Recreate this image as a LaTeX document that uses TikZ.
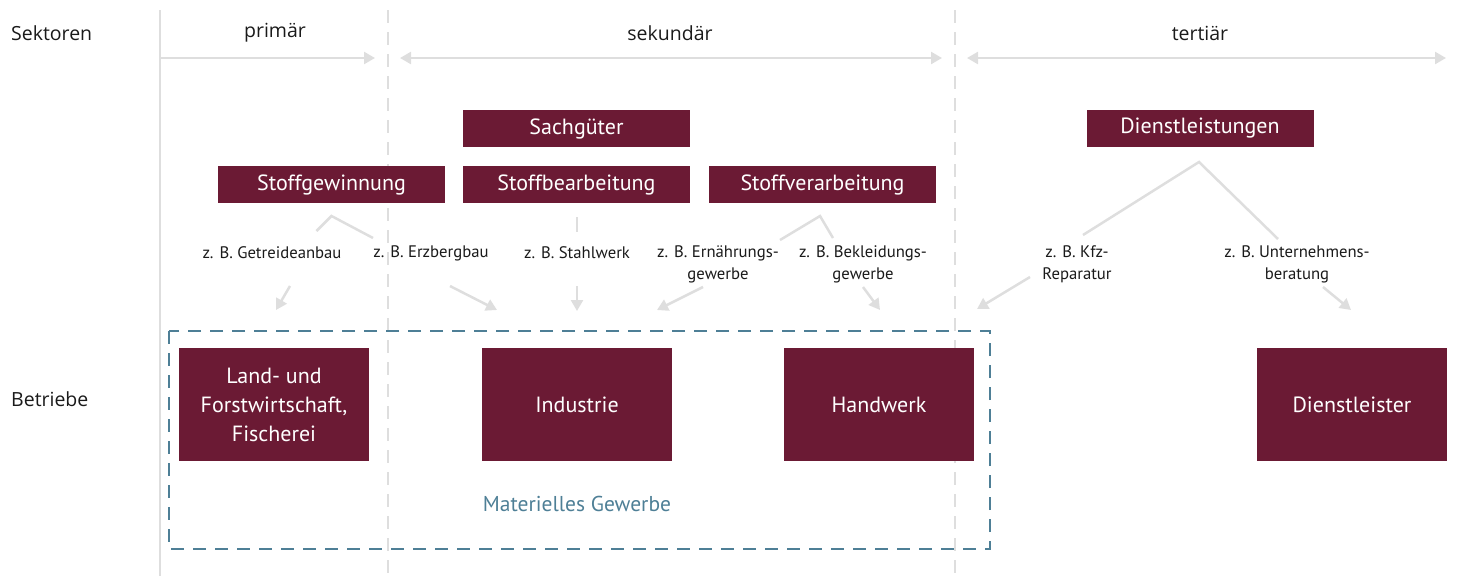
\documentclass[tikz,border=0pt]{standalone}
\usepackage{fontspec}
\setmainfont{PT Sans}
\newfontfamily\headfont{Open Sans}
\usepackage{tikz}
\usetikzlibrary{arrows.meta, positioning, calc}
\definecolor{WiRed}{RGB}{107,26,52}
\definecolor{WiGray}{RGB}{222,222,222}
\definecolor{WiTeal}{RGB}{78,127,150}
\definecolor{WiText}{RGB}{26,26,26}

\begin{document}
\begin{tikzpicture}[x=1pt, y=-1pt,
          box/.style={rectangle, fill=WiRed, text=white, inner sep=0pt,
                      minimum width=227pt, minimum height=37pt,
                      font=\fontsize{22}{26}\selectfont},
          firm/.style={rectangle, fill=WiRed, text=white, inner sep=0pt,
                       minimum width=190pt, minimum height=113pt, align=center,
                       font=\fontsize{22}{29}\selectfont},
          ex/.style={align=center, text=WiText, inner sep=0pt,
                     font=\fontsize{16.7}{22}\selectfont},
          head/.style={text=WiText, inner sep=0pt,
                       font=\headfont\fontsize{19.5}{23}\selectfont},
          link/.style={WiGray, line width=2.5pt},
          tip/.style={link, -{Triangle[length=11pt, width=12pt]}},
          tips/.style={link, {Triangle[length=11pt, width=12pt]}-{Triangle[length=11pt, width=12pt]}},
          divider/.style={WiGray, line width=2.5pt, dash pattern=on 13pt off 9pt}
        ]
        \useasboundingbox (0,0) rectangle (1457,576);

        % Sector borders
        \coordinate (b0t) at (160,10);  \coordinate (b0b) at (160,576);
        \coordinate (b1t) at (388,10);  \coordinate (b1b) at (388,576);
        \coordinate (b2t) at (955,10);  \coordinate (b2b) at (955,576);
        \draw[link] (b0t) -- (b0b);
        \draw[divider] (b1t) -- (b1b);
        \draw[divider] (b2t) -- (b2b);

        % Sectors
        \node[head, anchor=west] (sek) at (11,33) {Sektoren};
        \node[head] (pri) at (275,33) {primär};
        \node[head] (sec) at (670,33) {sekundär};
        \node[head] (ter) at (1200,33) {tertiär};
        \coordinate (p1) at (161,58);  \coordinate (p2) at (375,58);
        \coordinate (s1) at (400,58);  \coordinate (s2) at (942,58);
        \coordinate (t1) at (967,58);  \coordinate (t2) at (1446,58);
        \draw[tip] (p1) -- (p2);
        \draw[tips] (s1) -- (s2);
        \draw[tips] (t1) -- (t2);

        % Goods and services
        \node[box] (sag) at (576.5,128.5) {Sachgüter};
        \node[box] (dl)  at (1200,128.5) {Dienstleistungen};
        \node[box] (sg)  at (331.5,184.5) {Stoffgewinnung};
        \node[box] (sb)  at (576.5,184.5) {Stoffbearbeitung};
        \node[box] (sv)  at (822.5,184.5) {Stoffverarbeitung};

        % Examples
        \node[ex] (ex1) at (272,253) {z. B. Getreideanbau};
        \node[ex] (ex2) at (431,253) {z. B. Erzbergbau};
        \node[ex] (ex3) at (577,253) {z. B. Stahlwerk};
        \node[ex] (ex4) at (718,264) {z. B. Ernährungs-\\gewerbe};
        \node[ex] (ex5) at (863,264) {z. B. Bekleidungs-\\gewerbe};
        \node[ex] (ex6) at (1077,264) {z. B. Kfz-\\Reparatur};
        \node[ex] (ex7) at (1297,264) {z. B. Unternehmens-\\beratung};

        % Branches
        \coordinate (sg-ap) at (331.5,216);
        \coordinate (sg-l) at (316.5,231);  \coordinate (sg-r) at (373,238);
        \draw[link] (sg-l) -- (sg-ap) -- (sg-r);
        \coordinate (sb-ap) at (577,217);   \coordinate (sb-e) at (577,232);
        \draw[link] (sb-ap) -- (sb-e);
        \coordinate (sv-ap) at (820,216);
        \coordinate (sv-l) at (780,240);    \coordinate (sv-r) at (833,238);
        \draw[link] (sv-l) -- (sv-ap) -- (sv-r);
        \coordinate (dl-ap) at (1199,162);
        \coordinate (dl-l) at (1083,235);   \coordinate (dl-r) at (1278,239);
        \draw[link] (dl-l) -- (dl-ap) -- (dl-r);

        % Arrows to the firms
        \coordinate (a1) at (290,286);   \coordinate (a1e) at (276,310);
        \coordinate (a2) at (450,286);   \coordinate (a2e) at (497,310);
        \coordinate (a3) at (577,286);   \coordinate (a3e) at (577,311);
        \coordinate (a4) at (703,287);   \coordinate (a4e) at (657,310);
        \coordinate (a5) at (863,287);   \coordinate (a5e) at (880,310);
        \coordinate (a6) at (1030,277);  \coordinate (a6e) at (977,309);
        \coordinate (a7) at (1323,287);  \coordinate (a7e) at (1351,310);
        \foreach \i in {1,...,7}
          \draw[tip] (a\i) -- (a\i e);

        % Firms
        \node[head, anchor=west] (bet) at (11,399) {Betriebe};
        \draw[WiTeal, line width=2.5pt, dash pattern=on 13pt off 9pt]
          (169,331) rectangle (990,549);
        \node[firm] (lw)  at (274,404.5) {Land- und\\Forstwirtschaft,\\Fischerei};
        \node[firm] (ind) at (577,404.5) {Industrie};
        \node[firm] (hw)  at (879,404.5) {Handwerk};
        \node[firm] (dlr) at (1352,404.5) {Dienstleister};
        \node[text=WiTeal, font=\fontsize{21.5}{25}\selectfont] (mg) at (577,504)
          {Materielles Gewerbe};
      \end{tikzpicture}
\end{document}
